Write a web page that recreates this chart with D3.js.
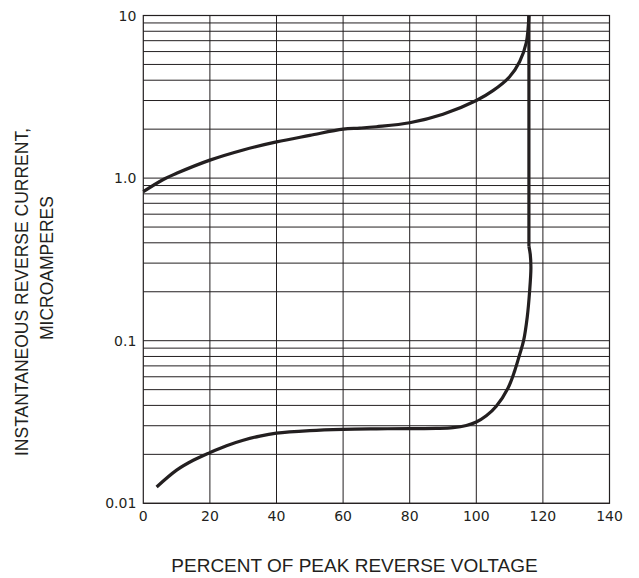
<!DOCTYPE html>
<html>
<head>
<meta charset="utf-8">
<script src="https://cdn.jsdelivr.net/npm/d3@7"></script>
<style>
  body { margin: 0; background: #fff; }
  text { fill: #231f20; }
</style>
</head>
<body>
<svg id="chart" width="639" height="578"></svg>
<script>
// values
const xTicks = [0, 20, 40, 60, 80, 100, 120, 140];
const yTicks = [0.01, 0.1, 1, 10];
const yTickLabels = ["0.01", "0.1", "1.0", "10"];

// upper curve (x = percent, y = microamperes)
const upperX = [0, 6, 10, 20, 30, 40, 50, 60, 65, 70, 80, 90, 100, 105, 110, 113, 115, 115.8];
const upperY = [0.825, 0.98, 1.07, 1.29, 1.49, 1.67, 1.83, 2.0, 2.03, 2.07, 2.19, 2.47, 3.0, 3.45, 4.2, 5.2, 6.8, 10];

// lower curve
const lowerX = [4, 10, 15, 20, 25, 30, 35, 40, 50, 60, 70, 80, 88, 93, 97, 100, 103, 106, 109.5, 111.5, 113, 114.2, 115.3, 116, 116.4, 116.2, 115.8];
const lowerY = [0.0126, 0.016, 0.0184, 0.0205, 0.0226, 0.0244, 0.0259, 0.027, 0.028, 0.0285, 0.0287, 0.0288, 0.0289, 0.0292, 0.0301, 0.0316, 0.0345, 0.0395, 0.051, 0.065, 0.082, 0.1, 0.14, 0.2, 0.28, 0.34, 0.38];

// breakdown line
const breakX = [115.8, 115.8];
const breakY = [0.38, 10];

(function () {
    let svg = d3.select("#chart");
    let left = 143.3, right = 609.5, top = 15.5, bottom = 503.3;
    let ink = "#231f20";

    let x = d3.scaleLinear().domain([0, 140]).range([left, right]);
    let y = d3.scaleLog().domain([0.01, 10]).range([bottom, top]);

    // grid
    let minor = [];
    for (let d = 0.01; d < 10; d *= 10) {
        for (let k = 1; k < 10; k++) minor.push(+(d * k).toPrecision(3));
    }
    svg.append("g").selectAll("line")
        .data(minor).enter().append("line")
        .attr("x1", left).attr("x2", right)
        .attr("y1", d => y(d)).attr("y2", d => y(d))
        .attr("stroke", ink).attr("stroke-width", 1);

    svg.append("g").selectAll("line")
        .data(xTicks.slice(1, -1)).enter().append("line")
        .attr("x1", d => x(d)).attr("x2", d => x(d))
        .attr("y1", top).attr("y2", bottom)
        .attr("stroke", ink).attr("stroke-width", 1);

    svg.append("rect")
        .attr("x", left).attr("y", top)
        .attr("width", right - left).attr("height", bottom - top)
        .attr("fill", "none").attr("stroke", ink).attr("stroke-width", 1.2);

    // tick labels
    svg.append("g").selectAll("text")
        .data(xTicks).enter().append("text")
        .attr("x", d => x(d)).attr("y", bottom + 18)
        .attr("text-anchor", "middle")
        .attr("font-family", "DejaVu Sans").attr("font-size", 14)
        .text(d => d);

    svg.append("g").selectAll("text")
        .data(yTicks).enter().append("text")
        .attr("x", left - 7).attr("y", d => y(d) + 5)
        .attr("text-anchor", "end")
        .attr("font-family", "DejaVu Sans").attr("font-size", 14)
        .text((d, i) => yTickLabels[i]);

    // curves
    let line = d3.line()
        .x(d => x(d[0])).y(d => y(d[1]))
        .curve(d3.curveCatmullRom.alpha(0.5));

    let upper = upperX.map((v, i) => [v, upperY[i]]);
    let lower = lowerX.map((v, i) => [v, lowerY[i]]);
    let brk = breakX.map((v, i) => [v, breakY[i]]);

    svg.append("path").datum(upper)
        .attr("d", line).attr("fill", "none")
        .attr("stroke", ink).attr("stroke-width", 3.2);
    svg.append("path").datum(lower)
        .attr("d", line).attr("fill", "none")
        .attr("stroke", ink).attr("stroke-width", 3.2);
    svg.append("path").datum(brk)
        .attr("d", d3.line().x(d => x(d[0])).y(d => y(d[1])))
        .attr("fill", "none")
        .attr("stroke", ink).attr("stroke-width", 3.2);

    // axis titles
    svg.append("text")
        .attr("x", 354.5).attr("y", 572)
        .attr("text-anchor", "middle")
        .attr("font-family", "Liberation Sans").attr("font-size", 19)
        .text("PERCENT OF PEAK REVERSE VOLTAGE");

    svg.append("text")
        .attr("transform", "translate(28.3,292) rotate(-90)")
        .attr("text-anchor", "middle")
        .attr("font-family", "Liberation Sans").attr("font-size", 17.5)
        .text("INSTANTANEOUS REVERSE CURRENT,");
    svg.append("text")
        .attr("transform", "translate(53.3,268) rotate(-90)")
        .attr("text-anchor", "middle")
        .attr("font-family", "Liberation Sans").attr("font-size", 17.5)
        .text("MICROAMPERES");
})();
</script>
</body>
</html>
